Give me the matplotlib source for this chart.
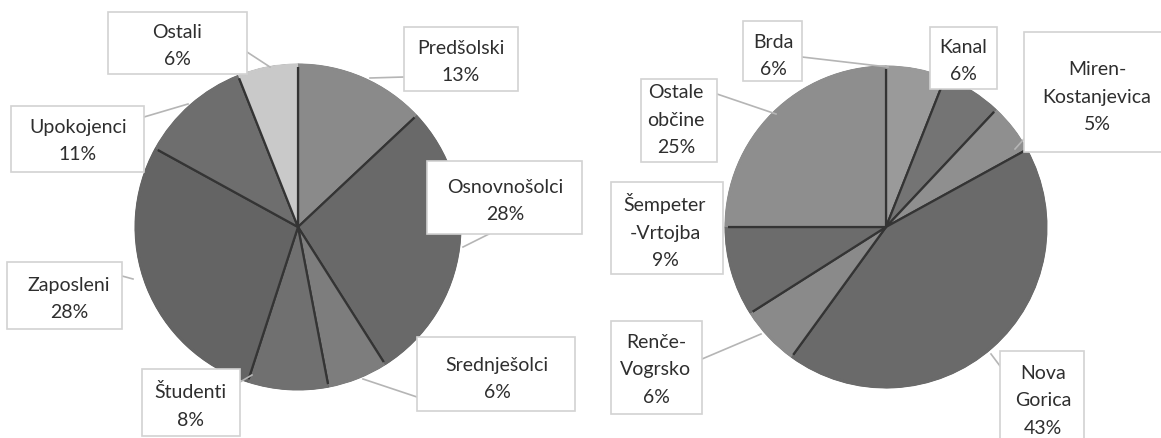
import matplotlib
matplotlib.use('Agg')
import matplotlib.pyplot as plt
from matplotlib.patches import Rectangle

# PODATKI
skupine = ['Predšolski', 'Osnovnošolci', 'Srednješolci', 'Študenti',
           'Zaposleni', 'Upokojenci', 'Ostali']
skupine_delez = [13, 28, 6, 8, 28, 11, 6]

obcine = ['Brda', 'Kanal', 'Miren-\nKostanjevica', 'Nova\nGorica',
          'Renče-\nVogrsko', 'Šempeter\n-Vrtojba', 'Ostale\nobčine']
obcine_delez = [6, 6, 5, 43, 6, 9, 25]

# BARVE (sivine iz skena)
barve_levo = ['#8a8a8a', '#696969', '#7d7d7d', '#707070', '#646464', '#6e6e6e', '#c9c9c9']
barve_desno = ['#9a9a9a', '#747474', '#8f8f8f', '#6a6a6a', '#8a8a8a', '#6c6c6c', '#8e8e8e']

# POSTAVITEV (piksli, y navzdol)
W, H = 1161, 439
levo_center, levo_r = (298, 228), 162
desno_center, desno_r = (886, 228), 160

# okvirji oznak: (x0, y0, x1, y1) in sredina besedila
okvirji_levo = [(404, 28, 518, 92), (427, 162, 582, 235), (417, 338, 575, 412),
                (142, 370, 240, 437), (7, 263, 122, 330), (11, 107, 144, 173),
                (108, 13, 247, 75)]
besedilo_levo = [(461, 62), (505, 201), (497, 379), (190, 406),
                 (69, 299), (78, 141), (177, 46)]
crte_levo = [((404, 78), (370, 79)), ((489, 235), (463, 248)),
             ((417, 398), (363, 380)), ((240, 383), (252, 376)),
             ((122, 277), (133, 280)), ((144, 118), (188, 105)),
             ((247, 53), (270, 68))]

okvirji_desno = [(743, 22, 802, 82), (930, 28, 997, 90), (1024, 33, 1163, 153),
                 (1000, 352, 1084, 445), (611, 322, 702, 415), (611, 183, 723, 275),
                 (641, 80, 717, 163)]
besedilo_desno = [(773, 56), (963, 61), (1097, 97), (1043, 401),
                  (656, 370), (665, 231), (676, 120)]
crte_desno = [((802, 58), (888, 68)), None, ((1024, 140), (1015, 150)),
              ((1000, 367), (991, 355)), ((702, 360), (761, 335)), None,
              ((717, 95), (776, 115))]

plt.rcParams['font.family'] = ['Lato', 'DejaVu Sans']

fig = plt.figure(figsize=(W / 100, H / 100), dpi=100)
ax = fig.add_axes([0, 0, 1, 1])


def narisi(vrednosti, oznake, barve, center, r, okvirji, besedila, crte):
    c = (center[0], H - center[1])
    ax.pie(vrednosti, colors=barve, startangle=90, counterclock=False,
           center=c, radius=r, frame=True,
           wedgeprops=dict(edgecolor='#343434', linewidth=1.6))
    # prekrij zunanji rob, da ostanejo samo radialne črte
    ax.pie(vrednosti, colors=barve, startangle=90, counterclock=False,
           center=c, radius=r + 1.5, frame=True,
           wedgeprops=dict(width=3.5, linewidth=0))
    for crta in crte:
        if crta is None:
            continue
        (x0, y0), (x1, y1) = crta
        ax.plot([x0, x1], [H - y0, H - y1], color='#b5b5b5', lw=1.2, zorder=4)
    for ime, v, (x0, y0, x1, y1), (tx, ty) in zip(oznake, vrednosti, okvirji, besedila):
        ax.add_patch(Rectangle((x0, H - y1), x1 - x0, y1 - y0, facecolor='white',
                               edgecolor='#d2d2d2', lw=1.2, zorder=5))
        ax.text(tx, H - ty, f'{ime}\n{v}%', ha='center', va='center',
                multialignment='center', fontsize=14, color='#2e2e2e',
                linespacing=1.75, zorder=6)


narisi(skupine_delez, skupine, barve_levo, levo_center, levo_r,
       okvirji_levo, besedilo_levo, crte_levo)
narisi(obcine_delez, obcine, barve_desno, desno_center, desno_r,
       okvirji_desno, besedilo_desno, crte_desno)

ax.set_xlim(0, W)
ax.set_ylim(0, H)
ax.set_aspect('auto')
ax.axis('off')

fig.savefig('out.png', dpi=100, facecolor='white')
